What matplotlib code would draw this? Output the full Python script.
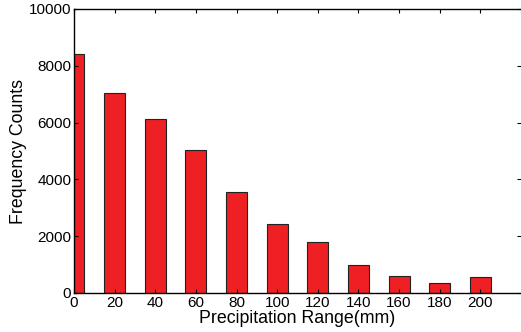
import matplotlib
matplotlib.use("Agg")
import matplotlib.pyplot as plt

categories = [0, 20, 40, 60, 80, 100, 120, 140, 160, 180, 200]
counts = [8420, 7040, 6140, 5020, 3550, 2430, 1780, 1000, 590, 350, 565]
yticks = [0, 2000, 4000, 6000, 8000, 10000]

plt.rcParams['font.family'] = ['Liberation Sans', 'DejaVu Sans']

fig = plt.figure(figsize=(5.21, 3.32), dpi=100)
ax = fig.add_axes([74/521, 39/332, 447/521, 284/332])
ax.bar(categories, counts, width=10.3, color='#ee2024', edgecolor='#222222', linewidth=0.8)
ax.set_xlim(0, 220)
ax.set_ylim(0, 10000)
ax.set_xticks(categories)
ax.set_yticks(yticks)
ax.tick_params(direction='in', length=3, width=0.8, top=True, right=True, labelsize=11, pad=2)
ax.spines['right'].set_visible(False)
for s in ['left', 'bottom', 'top']:
    ax.spines[s].set_linewidth(1.0)
ax.set_xlabel('Precipitation Range(mm)', fontsize=12.8, labelpad=0)
ax.set_ylabel('Frequency Counts', fontsize=12.8, labelpad=1)
fig.savefig('out.png', dpi=100)
